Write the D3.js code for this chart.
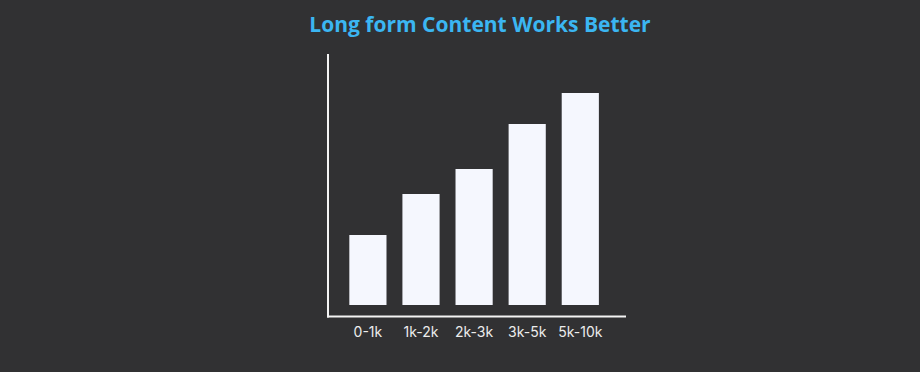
<!DOCTYPE html>
<html>
<head>
<meta charset="utf-8">
<script src="https://cdn.jsdelivr.net/npm/d3@7"></script>
<style>
  html, body { margin: 0; padding: 0; background: #313133; }
  svg { display: block; }
</style>
</head>
<body>
<svg id="chart"></svg>
<script>
// data (no y scale shown, values are relative bar heights)
const categories = ['0-1k', '1k-2k', '2k-3k', '3k-5k', '5k-10k'];
const values = [70, 111, 136, 181, 212];
const title = 'Long form Content Works Better';

const width = 920;
const height = 372;

const svg = d3.select('#chart')
  .attr('width', width)
  .attr('height', height);

svg.append('rect')
  .attr('width', width)
  .attr('height', height)
  .attr('fill', '#313133');

// scales
const x = d3.scaleBand()
  .domain(categories)
  .range([338.7, 609.5])
  .paddingInner(0.3)
  .paddingOuter(0.2);

const y = d3.scaleLinear()
  .domain([0, 251])
  .range([305, 54]);

// bars
svg.append('g')
  .attr('class', 'bars')
  .selectAll('rect')
  .data(values)
  .enter().append('rect')
    .attr('x', (d, i) => x(categories[i]))
    .attr('y', d => y(d))
    .attr('width', x.bandwidth())
    .attr('height', d => y(0) - y(d))
    .attr('fill', '#f5f7fe');

// axis lines
svg.append('line')
  .attr('x1', 328).attr('x2', 328)
  .attr('y1', 54).attr('y2', 317.5)
  .attr('stroke', '#f4f4f4')
  .attr('stroke-width', 2);

svg.append('line')
  .attr('x1', 327).attr('x2', 626)
  .attr('y1', 316.5).attr('y2', 316.5)
  .attr('stroke', '#f4f4f4')
  .attr('stroke-width', 2);

// category labels
const xAxis = svg.append('g')
  .attr('transform', 'translate(0,317)')
  .call(d3.axisBottom(x).tickSize(0).tickPadding(10));

xAxis.select('.domain').remove();
xAxis.selectAll('text')
  .attr('fill', '#ececec')
  .style('font-family', 'Inter, sans-serif')
  .style('font-size', '14px');

// title
svg.append('text')
  .attr('x', 480)
  .attr('y', 32)
  .attr('text-anchor', 'middle')
  .attr('fill', '#3bb6f2')
  .style('font-family', '"Open Sans", sans-serif')
  .style('font-weight', 'bold')
  .style('font-size', '21px')
  .text(title);
</script>
</body>
</html>
